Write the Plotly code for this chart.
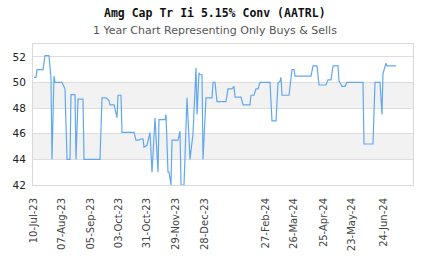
import plotly.graph_objects as go

dates = [
    "2023-07-10", "2023-07-12", "2023-07-13", "2023-07-19", "2023-07-21", "2023-07-25",
    "2023-07-27", "2023-07-28", "2023-07-30", "2023-07-31", "2023-08-07", "2023-08-09",
    "2023-08-10", "2023-08-12", "2023-08-15", "2023-08-16", "2023-08-20", "2023-08-21",
    "2023-08-23", "2023-08-28", "2023-08-29", "2023-09-14", "2023-09-16", "2023-09-20",
    "2023-09-23", "2023-09-24", "2023-09-28", "2023-10-01", "2023-10-02", "2023-10-05",
    "2023-10-06", "2023-10-18", "2023-10-20", "2023-10-23", "2023-10-25", "2023-10-27",
    "2023-10-28", "2023-10-31", "2023-11-03", "2023-11-05", "2023-11-08", "2023-11-11",
    "2023-11-12", "2023-11-18", "2023-11-19", "2023-11-21", "2023-11-22", "2023-11-24",
    "2023-11-25", "2023-12-01", "2023-12-03", "2023-12-04", "2023-12-07", "2023-12-10",
    "2023-12-13", "2023-12-16", "2023-12-19", "2023-12-20", "2023-12-22", "2023-12-23",
    "2023-12-25", "2023-12-26", "2023-12-29", "2024-01-04", "2024-01-05", "2024-01-07",
    "2024-01-09", "2024-01-18", "2024-01-20", "2024-01-24", "2024-01-26", "2024-01-27",
    "2024-02-02", "2024-02-04", "2024-02-11", "2024-02-12", "2024-02-15", "2024-02-17",
    "2024-02-19", "2024-02-21", "2024-03-02", "2024-03-04", "2024-03-08", "2024-03-10",
    "2024-03-12", "2024-03-13", "2024-03-14", "2024-03-21", "2024-03-24", "2024-03-26",
    "2024-03-27", "2024-04-12", "2024-04-14", "2024-04-18", "2024-04-20", "2024-04-27",
    "2024-04-29", "2024-05-02", "2024-05-04", "2024-05-09", "2024-05-10", "2024-05-13",
    "2024-05-16", "2024-05-18", "2024-06-03", "2024-06-04", "2024-06-13", "2024-06-15",
    "2024-06-20", "2024-06-22", "2024-06-23", "2024-06-26", "2024-06-27", "2024-07-06",
]
prices = [
    50.4, 50.4, 51.0, 51.0, 52.1, 52.1,
    50.3, 44.0, 50.5, 50.0, 50.0, 49.6,
    49.5, 44.0, 44.0, 49.05, 49.05, 44.0,
    48.7, 48.7, 44.0, 44.0, 48.8, 48.8,
    48.6, 48.25, 48.25, 47.25, 49.0, 49.0,
    46.1, 46.1, 45.5, 45.5, 45.6, 45.6,
    44.95, 45.1, 46.1, 43.0, 47.25, 43.0,
    47.1, 47.1, 47.5, 43.0, 43.0, 42.0,
    45.5, 45.5, 46.2, 42.0, 42.0, 48.8,
    44.0, 46.0, 51.15, 47.5, 50.75, 50.6,
    50.6, 44.0, 48.8, 48.8, 50.0, 50.0,
    48.5, 48.5, 49.5, 49.5, 49.7, 48.85,
    48.85, 48.25, 48.25, 49.0, 49.0, 49.5,
    49.5, 50.0, 50.0, 47.0, 47.0, 49.95,
    50.1, 50.4, 49.0, 49.0, 51.0, 51.0,
    50.5, 50.5, 51.3, 51.3, 49.8, 49.8,
    50.2, 50.2, 51.3, 51.3, 50.1, 49.7,
    49.7, 50.0, 50.0, 45.2, 45.2, 50.0,
    50.0, 47.5, 50.7, 51.5, 51.3, 51.3,
]

tick_dates = ["2023-07-10", "2023-08-07", "2023-09-05", "2023-10-03", "2023-10-31",
              "2023-11-29", "2023-12-28", "2024-02-27", "2024-03-26", "2024-04-25",
              "2024-05-23", "2024-06-24"]
tick_labels = ["10-Jul-23", "07-Aug-23", "05-Sep-23", "03-Oct-23", "31-Oct-23",
               "29-Nov-23", "28-Dec-23", "27-Feb-24", "26-Mar-24", "25-Apr-24",
               "23-May-24", "24-Jun-24"]
y_ticks = [42, 44, 46, 48, 50, 52]
bands = [(44, 46), (48, 50)]

W, H = 430, 260
ML, MR, MT, MB = 33, 17, 44, 75
plot_w = W - ML - MR
plot_h = H - MT - MB

fig = go.Figure()
fig.add_trace(go.Scatter(x=dates, y=prices, mode="lines",
                         line=dict(color="#62a8ef", width=1.2)))

for y0, y1 in bands:
    fig.add_shape(type="rect", xref="paper", yref="y", x0=0, x1=1, y0=y0, y1=y1,
                  fillcolor="#f2f2f2", line_width=0, layer="below")

cx = (W / 2 - ML) / plot_w
fig.add_annotation(text="<b>Amg Cap Tr Ii 5.15% Conv (AATRL)</b>", xref="paper", yref="paper",
                   x=cx, xanchor="center", y=1 + (MT - 13) / plot_h, yanchor="middle",
                   showarrow=False, font=dict(family="DejaVu Sans Mono", size=11.5, color="#111"))
fig.add_annotation(text="1 Year Chart Representing Only Buys & Sells", xref="paper", yref="paper",
                   x=cx, xanchor="center", y=1 + (MT - 30) / plot_h, yanchor="middle",
                   showarrow=False, font=dict(family="DejaVu Sans", size=11, color="#555"))

fig.update_layout(
    width=W, height=H,
    margin=dict(l=ML, r=MR, t=MT, b=MB, autoexpand=False),
    paper_bgcolor="white", plot_bgcolor="white",
    showlegend=False,
)

fig.update_xaxes(
    type="date", range=["2023-07-09", "2024-07-23"], automargin=False,
    tickvals=tick_dates, ticktext=tick_labels, tickangle=-90,
    tickfont=dict(family="DejaVu Sans", size=10, color="#444"),
    showgrid=False, showline=True, linecolor="#d9d9d9", linewidth=1, mirror=True,
    ticks="outside", ticklen=8, tickcolor="rgba(0,0,0,0)", zeroline=False,
)
fig.update_yaxes(
    range=[42, 53], tickvals=y_ticks, automargin=False,
    tickfont=dict(family="DejaVu Sans", size=10.5, color="#222"),
    showgrid=True, gridcolor="#dddddd", gridwidth=1,
    showline=True, linecolor="#d9d9d9", linewidth=1, mirror=True,
    ticks="outside", ticklen=4, tickcolor="rgba(0,0,0,0)", zeroline=False,
)

fig.write_html("out.html")
